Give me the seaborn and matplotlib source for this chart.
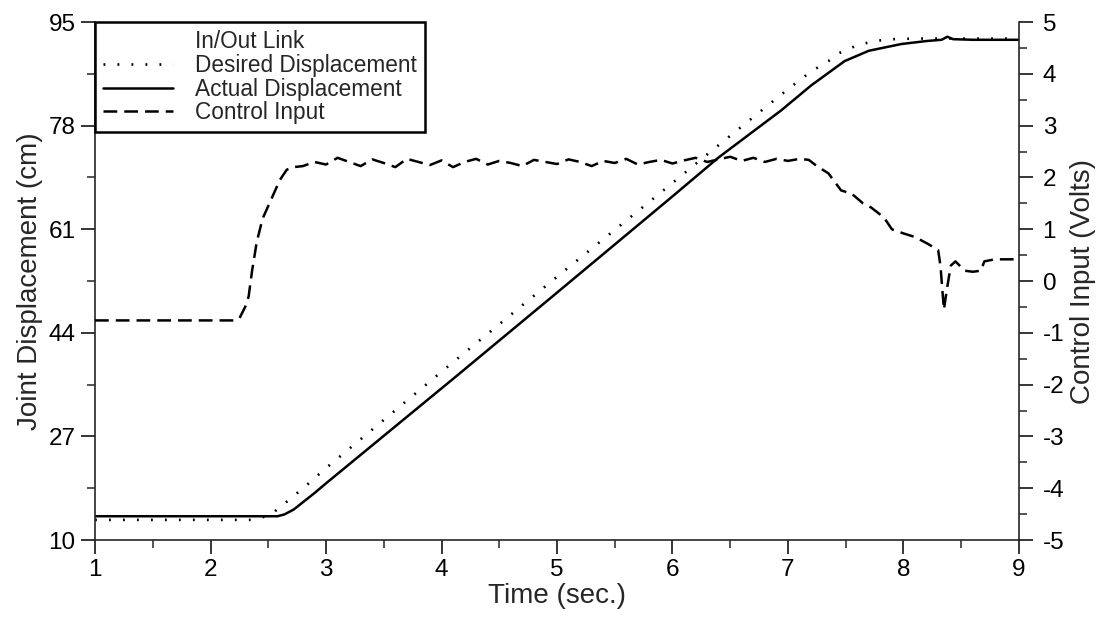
import matplotlib
matplotlib.use("Agg")
import matplotlib.pyplot as plt
import seaborn as sns
import pandas as pd
import numpy as np
from matplotlib.lines import Line2D
from matplotlib.ticker import FixedLocator

# ---------------- data ----------------
desired_t = [1.0, 2.35, 2.45, 2.55, 2.7, 2.85, 3.0, 4.05, 5.0, 6.0, 6.34, 7.0, 7.2,
             7.35, 7.44, 7.6, 7.75, 7.9, 8.1, 9.0]
desired_cm = [13.3, 13.3, 13.7, 14.6, 16.9, 19.3, 21.8, 38.4, 53.2, 68.6, 73.9, 84.0, 86.9,
              88.6, 89.9, 91.2, 91.9, 92.2, 92.3, 92.3]

actual_t = [1.0, 2.58, 2.64, 2.72, 2.8, 2.9, 3.0, 4.11, 5.0, 6.0, 6.4, 6.94, 7.2,
            7.49, 7.7, 7.98, 8.2, 8.33, 8.38, 8.43, 8.6, 9.0]
actual_cm = [13.9, 13.9, 14.2, 15.0, 16.2, 17.7, 19.3, 36.6, 50.6, 66.4, 72.8, 80.5, 84.6,
             88.6, 90.3, 91.4, 91.9, 92.1, 92.6, 92.2, 92.1, 92.1]

control_t = [1.0, 2.2, 2.25, 2.3, 2.33, 2.36, 2.4, 2.45, 2.52, 2.6, 2.66, 2.72,
             2.8, 2.9, 3.0, 3.1, 3.2, 3.3, 3.4, 3.5, 3.6, 3.7, 3.8, 3.9, 4.0,
             4.1, 4.2, 4.3, 4.4, 4.5, 4.6, 4.7, 4.8, 4.9, 5.0, 5.1, 5.2, 5.3,
             5.4, 5.5, 5.6, 5.7, 5.8, 5.9, 6.0, 6.1, 6.2, 6.3, 6.4, 6.5, 6.6,
             6.7, 6.8, 6.9, 7.0, 7.1, 7.18, 7.25, 7.35, 7.46, 7.55, 7.65, 7.72,
             7.83, 7.9, 8.0, 8.1, 8.21, 8.3, 8.32, 8.35, 8.38, 8.41, 8.45, 8.53,
             8.6, 8.67, 8.7, 8.79, 9.0]
control_v = [-0.76, -0.76, -0.72, -0.5, -0.3, 0.2, 0.75, 1.2, 1.55, 1.95, 2.15, 2.2,
             2.22, 2.3, 2.25, 2.38, 2.3, 2.22, 2.35, 2.28, 2.2, 2.36, 2.3, 2.24, 2.33,
             2.2, 2.3, 2.36, 2.25, 2.32, 2.28, 2.22, 2.34, 2.3, 2.26, 2.35, 2.3, 2.22,
             2.32, 2.28, 2.36, 2.25, 2.3, 2.34, 2.27, 2.33, 2.38, 2.3, 2.35, 2.4, 2.32,
             2.38, 2.3, 2.36, 2.32, 2.36, 2.34, 2.22, 2.08, 1.75, 1.69, 1.5, 1.42,
             1.23, 1.0, 0.92, 0.85, 0.72, 0.6, 0.3, -0.55, -0.1, 0.3, 0.38, 0.2,
             0.18, 0.2, 0.38, 0.42, 0.42]

left_ticks = [10, 27, 44, 61, 78, 95]
right_ticks = [-5, -4, -3, -2, -1, 0, 1, 2, 3, 4, 5]
x_ticks = [1, 2, 3, 4, 5, 6, 7, 8, 9]

legend_title = "In/Out Link"
labels = ["Desired Displacement", "Actual Displacement", "Control Input"]

# ---------------- style ----------------
sns.set_style("ticks")
plt.rcParams["font.family"] = ["Liberation Sans", "DejaVu Sans"]
plt.rcParams["axes.linewidth"] = 1.2
plt.rcParams["axes.unicode_minus"] = False

DOT = (0, (0.7, 4.6))
DASH = (0, (5.5, 2.8))

fig = plt.figure(figsize=(11.10, 6.18), dpi=100)
ax = fig.add_axes([0.0856, 0.1262, 0.8324, 0.838])
ax2 = ax.twinx()

df_des = pd.DataFrame({"t": desired_t, "y": desired_cm})
df_act = pd.DataFrame({"t": actual_t, "y": actual_cm})
df_ctl = pd.DataFrame({"t": control_t, "v": control_v})

sns.lineplot(data=df_des, x="t", y="y", ax=ax, color="black", lw=1.9,
             linestyle=DOT, estimator=None, sort=False)
sns.lineplot(data=df_act, x="t", y="y", ax=ax, color="black", lw=1.8,
             estimator=None, sort=False)
sns.lineplot(data=df_ctl, x="t", y="v", ax=ax2, color="black", lw=1.8,
             linestyle=DASH, estimator=None, sort=False)

ax.set_xlim(1, 9)
ax.set_ylim(10, 95)
ax2.set_ylim(-5, 5)

ax.xaxis.set_major_locator(FixedLocator(x_ticks))
ax.xaxis.set_minor_locator(FixedLocator([v + 0.5 for v in x_ticks[:-1]]))
ax.yaxis.set_major_locator(FixedLocator(left_ticks))
ax.yaxis.set_minor_locator(FixedLocator([v + 8.5 for v in left_ticks[:-1]]))
ax2.yaxis.set_major_locator(FixedLocator(right_ticks))
ax2.yaxis.set_minor_locator(FixedLocator([v + 0.5 for v in right_ticks[:-1]]))

for a in (ax, ax2):
    a.tick_params(which="major", direction="out", length=10, width=1.1,
                  labelsize=17.5, pad=4, colors="black")
    a.tick_params(which="minor", direction="out", length=6, width=1.1)
    a.spines["top"].set_visible(False)
ax2.tick_params(axis="y", which="major", pad=7)
ax.spines["right"].set_visible(False)
ax2.spines["left"].set_visible(False)
ax2.spines["bottom"].set_visible(False)
ax2.spines["right"].set_visible(True)

ax.set_xlabel("Time (sec.)", fontsize=20, labelpad=1)
ax.set_ylabel("Joint Displacement (cm)", fontsize=20, labelpad=4)
ax2.set_ylabel("Control Input (Volts)", fontsize=20, labelpad=4)

handles = [Line2D([], [], color="none"),
           Line2D([], [], color="black", lw=1.9, linestyle=DOT),
           Line2D([], [], color="black", lw=1.8),
           Line2D([], [], color="black", lw=1.8, linestyle=DASH)]
leg = ax2.legend(handles, [legend_title] + labels, loc="upper left",
                 bbox_to_anchor=(0.0, 1.0), borderaxespad=0.0, fontsize=16.3,
                 frameon=True, fancybox=False, handlelength=3.1,
                 handletextpad=0.95, labelspacing=0.03, borderpad=0.36)
leg.get_frame().set_edgecolor("black")
leg.get_frame().set_linewidth(1.8)
leg.get_frame().set_facecolor("white")
leg.get_frame().set_alpha(1.0)

fig.savefig("out.png", dpi=100, facecolor="white")
